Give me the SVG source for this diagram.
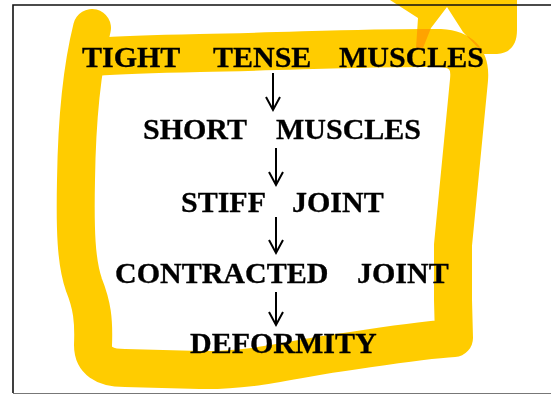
<svg xmlns="http://www.w3.org/2000/svg" width="551" height="395" viewBox="0 0 551 395">
  <style>
    .lbl { font-family: "Liberation Serif", "Times New Roman", serif; font-weight: bold; font-size: 30px; fill: #000; stroke: #000; stroke-width: 0.3; }
    .hl { fill: #FFCC00; }
    .loop { fill: none; stroke: #FFCC00; stroke-width: 38; stroke-linecap: round; stroke-linejoin: round; mix-blend-mode: multiply; }
    .frame { fill: none; stroke: #111; stroke-width: 1.6; }
    .conn { fill: none; stroke: #000; stroke-width: 2; marker-end: url(#vhead); }
  </style>
  <defs>
    <marker id="vhead" markerUnits="userSpaceOnUse" markerWidth="20" markerHeight="20" refX="0" refY="0" orient="auto" overflow="visible">
      <path d="M-13,-7 L0,0 L-13,7" fill="none" stroke="#000" stroke-width="2"/>
    </marker>
  </defs>
  <rect width="551" height="395" fill="#ffffff"/>

  <!-- highlighter marks -->
  <g id="highlight">
    <path class="hl" d="M390,0 H517 V30 C517,45 510,53 497,54 L484,54 L463,32 L447,7 L431,28 L423,48 L416,48 L418,18 Z"/>
    <path class="loop" d="M92,28 C84,60 77,110 76,180 C75,230 76,262 84,285 C92,305 94,320 93,345 Q93,368 125,368 L200,370 C250,371 290,360 330,354 C380,347 420,340 454,338 L453,300 L453,245 L469,80 C471,58 460,49 440,48 C380,47 300,51 200,53 C150,54 120,55 95,57"/>
  </g>

  <!-- frame -->
  <g id="frame">
    <path class="frame" d="M551,5 H13 V393"/>
    <line x1="13" y1="393.5" x2="551" y2="393.5" stroke="#777" stroke-width="1.2"/>
  </g>

  <g id="connectors">
    <line class="conn" x1="273" y1="73" x2="273" y2="110"/>
    <line class="conn" x1="276" y1="148" x2="276" y2="185"/>
    <line class="conn" x1="276" y1="217" x2="276" y2="253"/>
    <line class="conn" x1="276" y1="292" x2="276" y2="325"/>
  </g>

  <g id="n1">
    <text class="lbl" y="67"><tspan x="82">TIGHT</tspan><tspan x="213">TENSE</tspan><tspan x="339">MUSCLES</tspan></text>
  </g>
  <g id="n2">
    <text class="lbl" y="139"><tspan x="143">SHORT</tspan><tspan x="276">MUSCLES</tspan></text>
  </g>
  <g id="n3">
    <text class="lbl" y="212"><tspan x="181">STIFF</tspan><tspan x="292">JOINT</tspan></text>
  </g>
  <g id="n4">
    <text class="lbl" y="283"><tspan x="115">CONTRACTED</tspan><tspan x="357">JOINT</tspan></text>
  </g>
  <g id="n5">
    <text class="lbl" y="353" x="190">DEFORMITY</text>
  </g>
</svg>
